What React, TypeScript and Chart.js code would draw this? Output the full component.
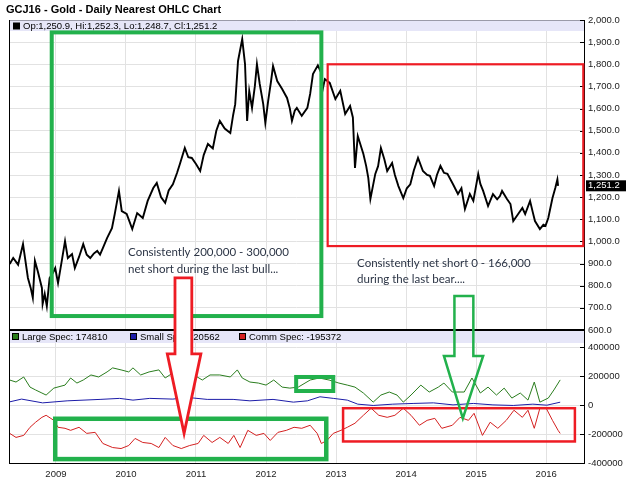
import React, { useEffect, useRef } from 'react';
import { Chart, registerables } from 'chart.js';
Chart.register(...registerables);

// ---------- DATA ----------
const titleText = 'GCJ16 - Gold - Daily Nearest OHLC Chart';
const ohlcLabel = 'Op:1,250.9, Hi:1,252.3, Lo:1,248.7, Cl:1,251.2';
const lastClose = 1251.2;

const yearTicks = [2009, 2010, 2011, 2012, 2013, 2014, 2015, 2016];
const priceTicks = [600, 700, 800, 900, 1000, 1100, 1200, 1300, 1400, 1500, 1600, 1700, 1800, 1900, 2000];
const cotTicks = [-400000, -200000, 0, 200000, 400000];

const priceYears = [
  2008.34, 2008.39, 2008.46, 2008.53, 2008.6, 2008.64, 2008.67, 2008.7, 2008.74, 2008.8, 2008.81, 2008.84, 2008.87,
  2008.91, 2008.96, 2008.99, 2009.03, 2009.09, 2009.13, 2009.17, 2009.23, 2009.27, 2009.33, 2009.39, 2009.44, 2009.49,
  2009.54, 2009.59, 2009.63, 2009.67, 2009.73, 2009.8, 2009.84, 2009.9, 2009.94, 2010.01, 2010.09, 2010.16, 2010.24,
  2010.31, 2010.39, 2010.44, 2010.5, 2010.56, 2010.61, 2010.67, 2010.73, 2010.77, 2010.84, 2010.89, 2010.94, 2011.0,
  2011.06, 2011.11, 2011.17, 2011.24, 2011.29, 2011.34, 2011.41, 2011.49, 2011.53, 2011.56, 2011.6, 2011.66, 2011.7,
  2011.73, 2011.76, 2011.8, 2011.84, 2011.87, 2011.91, 2011.96, 2011.99, 2012.03, 2012.07, 2012.1, 2012.16, 2012.23,
  2012.3, 2012.34, 2012.37, 2012.41, 2012.44, 2012.51, 2012.59, 2012.63, 2012.67, 2012.74, 2012.79, 2012.81, 2012.84,
  2012.91, 2012.99, 2013.06, 2013.13, 2013.2, 2013.24, 2013.27, 2013.31, 2013.39, 2013.43, 2013.46, 2013.49, 2013.56,
  2013.6, 2013.64, 2013.69, 2013.73, 2013.8, 2013.84, 2013.89, 2013.96, 2014.01, 2014.06, 2014.11, 2014.17, 2014.24,
  2014.3, 2014.34, 2014.4, 2014.44, 2014.49, 2014.54, 2014.59, 2014.67, 2014.74, 2014.79, 2014.84, 2014.91, 2014.96,
  2015.03, 2015.06, 2015.1, 2015.17, 2015.24, 2015.3, 2015.34, 2015.37, 2015.44, 2015.49, 2015.53, 2015.6, 2015.66,
  2015.7, 2015.77, 2015.81, 2015.84, 2015.91, 2015.96, 2015.99, 2016.03, 2016.09, 2016.13, 2016.16, 2016.17,
];
const priceValues = [
  898, 925, 895, 988, 835, 790, 745, 912, 866, 790, 717, 763, 708,
  835, 860, 880, 812, 925, 1002, 925, 943, 880, 930, 988, 940, 925,
  945, 957, 940, 970, 1015, 1060, 1124, 1228, 1137, 1124, 1056, 1128, 1106,
  1183, 1241, 1264, 1200, 1174, 1230, 1258, 1310, 1350, 1422, 1380, 1377, 1350,
  1318, 1390, 1440, 1420, 1500, 1544, 1510, 1490, 1570, 1620, 1815, 1914, 1801,
  1544, 1680, 1603, 1700, 1801, 1711, 1620, 1535, 1634, 1720, 1792, 1724, 1688,
  1648, 1600, 1544, 1590, 1603, 1567, 1603, 1666, 1756, 1795, 1760, 1688, 1733,
  1716, 1643, 1680, 1576, 1612, 1560, 1332, 1476, 1395, 1340, 1287, 1192, 1305,
  1340, 1422, 1370, 1318, 1354, 1300, 1250, 1196, 1240, 1258, 1320, 1377, 1318,
  1300, 1296, 1250, 1300, 1341, 1310, 1305, 1258, 1214, 1240, 1146, 1214, 1183,
  1305, 1260, 1228, 1160, 1214, 1190, 1205, 1228, 1192, 1169, 1092, 1124, 1151,
  1124, 1183, 1130, 1092, 1056, 1075, 1070, 1106, 1196, 1241, 1280, 1251,
];

const largeYears = [
  2008.34, 2008.43, 2008.54, 2008.63, 2008.71, 2008.8, 2008.86, 2008.97, 2009.13, 2009.21, 2009.3, 2009.39, 2009.5,
  2009.61, 2009.73, 2009.81, 2009.93, 2010.04, 2010.1, 2010.21, 2010.33, 2010.47, 2010.56, 2010.67, 2010.84, 2010.97,
  2011.09, 2011.2, 2011.34, 2011.49, 2011.59, 2011.66, 2011.77, 2011.89, 2012.0, 2012.11, 2012.23, 2012.34, 2012.46,
  2012.63, 2012.76, 2012.9, 2013.04, 2013.16, 2013.27, 2013.39, 2013.53, 2013.64, 2013.76, 2013.87, 2013.96, 2014.07,
  2014.21, 2014.33, 2014.46, 2014.54, 2014.66, 2014.83, 2014.94, 2015.06, 2015.17, 2015.29, 2015.4, 2015.51, 2015.63,
  2015.74, 2015.83, 2015.91, 2016.03, 2016.11, 2016.2,
];
const largeSpec = [
  174000, 160000, 195000, 125000, 105000, 84000, 70000, 118000, 139000, 188000, 153000, 174000, 209000,
  195000, 230000, 258000, 244000, 230000, 258000, 209000, 230000, 244000, 188000, 223000, 244000, 209000,
  174000, 209000, 209000, 195000, 244000, 188000, 160000, 153000, 139000, 174000, 125000, 118000, 125000,
  174000, 188000, 174000, 153000, 139000, 125000, 84000, 21000, 70000, 91000, 70000, 21000, 70000,
  139000, 91000, 125000, 153000, 91000, 91000, 188000, 84000, 125000, 70000, 118000, 49000, 84000,
  35000, 160000, 21000, 49000, 105000, 174810,
];

const smallYears = [
  2008.34, 2008.51, 2008.81, 2009.16, 2009.63, 2009.91, 2010.1, 2010.34, 2010.67, 2010.87, 2011.16, 2011.53, 2011.77,
  2012.1, 2012.39, 2012.59, 2012.77, 2012.96, 2013.16, 2013.31, 2013.53, 2013.81, 2014.1, 2014.39, 2014.67, 2014.96,
  2015.24, 2015.53, 2015.81, 2016.01, 2016.2,
];
const smallSpec = [
  23000, 42000, 16000, 30000, 40000, 47000, 35000, 47000, 42000, 54000, 40000, 40000, 30000,
  40000, 21000, 30000, 58000, 47000, 35000, 7000, -2000, 7000, 12000, 16000, 2000, 12000,
  2000, -2000, 7000, 0, 20562,
];

const commYears = [
  2008.34, 2008.43, 2008.54, 2008.63, 2008.71, 2008.8, 2008.86, 2008.97, 2009.03, 2009.13, 2009.21, 2009.33, 2009.44,
  2009.56, 2009.67, 2009.81, 2009.93, 2010.04, 2010.13, 2010.24, 2010.36, 2010.47, 2010.56, 2010.67, 2010.79, 2010.91,
  2011.03, 2011.11, 2011.23, 2011.34, 2011.46, 2011.54, 2011.63, 2011.74, 2011.86, 2011.97, 2012.06, 2012.17, 2012.29,
  2012.4, 2012.51, 2012.63, 2012.73, 2012.79, 2012.87, 2012.96, 2013.07, 2013.16, 2013.27, 2013.39, 2013.5, 2013.61,
  2013.73, 2013.84, 2013.96, 2014.07, 2014.19, 2014.3, 2014.41, 2014.51, 2014.66, 2014.77, 2014.89, 2014.97, 2015.09,
  2015.2, 2015.31, 2015.43, 2015.54, 2015.66, 2015.74, 2015.83, 2015.91, 2016.0, 2016.09, 2016.17, 2016.2,
];
const commSpec = [
  -195000, -223000, -209000, -153000, -118000, -84000, -70000, -105000, -153000, -160000, -174000, -153000, -195000,
  -188000, -265000, -293000, -300000, -279000, -230000, -258000, -265000, -293000, -223000, -279000, -300000, -279000,
  -265000, -209000, -258000, -223000, -265000, -209000, -293000, -174000, -209000, -195000, -244000, -188000, -174000,
  -153000, -160000, -139000, -195000, -265000, -244000, -195000, -174000, -153000, -125000, -70000, -21000, -70000,
  -84000, -70000, -21000, -70000, -139000, -105000, -91000, -160000, -139000, -84000, -105000, -56000, -209000,
  -118000, -160000, -105000, -35000, -84000, -35000, -160000, -21000, -21000, -105000, -174000, -195372,
];

// ---------- ANNOTATIONS (data coordinates) ----------
const GREEN = '#22b14c';
const RED = '#ee1c24';
const rects = [
  { axis: 'yPrice', x0: 2008.94, x1: 2012.79, y0: 1944, y1: 663, color: GREEN, lw: 4 },
  { axis: 'yPrice', x0: 2012.88, x1: 2016.53, y0: 1800, y1: 979, color: RED, lw: 2.2 },
  { axis: 'yCot', x0: 2012.43, x1: 2012.96, y0: 195000, y1: 98000, color: GREEN, lw: 4 },
  { axis: 'yCot', x0: 2008.99, x1: 2012.86, y0: -94000, y1: -373000, color: GREEN, lw: 4.5 },
  { axis: 'yCot', x0: 2013.1, x1: 2016.41, y0: -21000, y1: -251000, color: RED, lw: 2.5 },
];
const arrows = [
  { color: RED, lw: 2.8, fill: '#ffffff', top: 835, base: 355000, tip: -195000, sL: 2010.7, sR: 2010.94, hL: 2010.59, hR: 2011.07, tx: 2010.83 },
  { color: GREEN, lw: 2.5, fill: '', top: 754, base: 341000, tip: -91000, sL: 2014.69, sR: 2014.96, hL: 2014.54, hR: 2015.1, tx: 2014.81 },
];
const notes = [
  { x: 2010.03, y: 953, text: 'Consistently 200,000 - 300,000' },
  { x: 2010.03, y: 876, text: 'net short during the last bull...' },
  { x: 2013.3, y: 899, text: 'Consistently net short 0 - 166,000' },
  { x: 2013.3, y: 827, text: 'during the last bear....' },
];
const cotLegend = [
  { label: 'Large Spec: 174810', color: '#2a7d1e', x: 12 },
  { label: 'Small Spec: 20562', color: '#1c1ca8', x: 130 },
  { label: 'Comm Spec: -195372', color: '#d42020', x: 239 },
];

const FONT = 'Liberation Sans, Arial, sans-serif';
const fmtPrice = (v: number) => v.toLocaleString('en-US', { minimumFractionDigits: 1, maximumFractionDigits: 1 });

const overlay = {
  id: 'overlay',
  beforeDatasetsDraw(chart: any) {
    const { ctx, chartArea } = chart;
    const yP = chart.scales.yPrice;
    const yC = chart.scales.yCot;
    ctx.save();
    ctx.fillStyle = '#e6e6f8';
    ctx.fillRect(chartArea.left, yP.top, chartArea.right - chartArea.left, 11);
    ctx.fillRect(chartArea.left, yC.top + 1, chartArea.right - chartArea.left, 12);
    ctx.strokeStyle = '#9a9aa8';
    ctx.lineWidth = 1;
    ctx.beginPath();
    ctx.moveTo(chartArea.left, yP.top + 0.5);
    ctx.lineTo(chartArea.right, yP.top + 0.5);
    ctx.stroke();
    ctx.font = `9.5px ${FONT}`;
    ctx.textBaseline = 'middle';
    ctx.fillStyle = '#000';
    ctx.fillRect(chartArea.left + 4, yP.top + 2.5, 7, 7);
    ctx.fillText(ohlcLabel, chartArea.left + 14, yP.top + 6);
    for (const item of cotLegend) {
      ctx.fillStyle = '#000';
      ctx.fillRect(item.x, yC.top + 3, 7, 7);
      ctx.fillStyle = item.color;
      ctx.fillRect(item.x + 1, yC.top + 4, 5, 5);
      ctx.fillStyle = '#000';
      ctx.fillText(item.label, item.x + 10, yC.top + 7);
    }
    ctx.restore();
  },
  afterDraw(chart: any) {
    const { ctx, chartArea } = chart;
    const xs = chart.scales.x;
    const yP = chart.scales.yPrice;
    const yC = chart.scales.yCot;
    const Y = (axis: string, v: number) => chart.scales[axis].getPixelForValue(v);
    const X = (v: number) => xs.getPixelForValue(v);
    ctx.save();
    ctx.strokeStyle = '#000';
    ctx.lineWidth = 1;
    ctx.beginPath();
    ctx.moveTo(chartArea.left + 0.5, chartArea.top);
    ctx.lineTo(chartArea.left + 0.5, chartArea.bottom);
    ctx.stroke();
    ctx.lineWidth = 2;
    ctx.beginPath();
    ctx.moveTo(chartArea.left, yC.top);
    ctx.lineTo(chartArea.right, yC.top);
    ctx.stroke();
    ctx.lineWidth = 1;
    for (const sc of [yP, yC]) {
      for (const t of sc.ticks) {
        const py = Math.round(sc.getPixelForValue(t.value)) + 0.5;
        ctx.beginPath();
        ctx.moveTo(chartArea.right - 4, py);
        ctx.lineTo(chartArea.right, py);
        ctx.stroke();
      }
    }
    for (const r of rects) {
      ctx.strokeStyle = r.color;
      ctx.lineWidth = r.lw;
      const x0 = X(r.x0), x1 = X(r.x1), y0 = Y(r.axis, r.y0), y1 = Y(r.axis, r.y1);
      ctx.strokeRect(x0, y0, x1 - x0, y1 - y0);
    }
    for (const a of arrows) {
      const top = Y('yPrice', a.top), base = Y('yCot', a.base), tip = Y('yCot', a.tip);
      ctx.beginPath();
      ctx.moveTo(X(a.sL), top);
      ctx.lineTo(X(a.sR), top);
      ctx.lineTo(X(a.sR), base);
      ctx.lineTo(X(a.hR), base);
      ctx.lineTo(X(a.tx), tip);
      ctx.lineTo(X(a.hL), base);
      ctx.lineTo(X(a.sL), base);
      ctx.closePath();
      if (a.fill) {
        ctx.fillStyle = a.fill;
        ctx.fill();
      }
      ctx.strokeStyle = a.color;
      ctx.lineWidth = a.lw;
      ctx.lineJoin = 'miter';
      ctx.stroke();
    }
    ctx.font = `11.5px Lato, "Open Sans", sans-serif`;
    ctx.fillStyle = '#2b3445';
    ctx.textBaseline = 'middle';
    ctx.textAlign = 'left';
    for (const n of notes) ctx.fillText(n.text, X(n.x), Y('yPrice', n.y));
    const ly = yP.getPixelForValue(lastClose);
    ctx.fillStyle = '#000';
    ctx.fillRect(chartArea.right + 2, ly - 5.5, 40, 11);
    ctx.fillStyle = '#fff';
    ctx.font = `9.5px ${FONT}`;
    ctx.fillText(fmtPrice(lastClose), chartArea.right + 4, ly);
    ctx.fillStyle = '#000';
    ctx.font = `bold 11px ${FONT}`;
    ctx.textBaseline = 'middle';
    ctx.fillText(titleText, 6, 10);
    ctx.restore();
  },
};

export default function App() {
  const ref = useRef<HTMLCanvasElement>(null);
  useEffect(() => {
    document.body.style.margin = '0';
    const canvas = ref.current!;
    const tickFont = { family: FONT, size: 9.5 };
    const chart = new Chart(canvas, {
      type: 'line',
      data: {
        datasets: [
          {
            label: 'Gold',
            data: priceYears.map((x, i) => ({ x, y: priceValues[i] })),
            yAxisID: 'yPrice',
            borderColor: '#000',
            borderWidth: 1.9,
            pointRadius: 0,
          },
          {
            label: 'Large Spec',
            data: largeYears.map((x, i) => ({ x, y: largeSpec[i] })),
            yAxisID: 'yCot',
            borderColor: '#2a7d1e',
            borderWidth: 1,
            pointRadius: 0,
          },
          {
            label: 'Small Spec',
            data: smallYears.map((x, i) => ({ x, y: smallSpec[i] })),
            yAxisID: 'yCot',
            borderColor: '#1c1ca8',
            borderWidth: 1,
            pointRadius: 0,
          },
          {
            label: 'Comm Spec',
            data: commYears.map((x, i) => ({ x, y: commSpec[i] })),
            yAxisID: 'yCot',
            borderColor: '#d42020',
            borderWidth: 1,
            pointRadius: 0,
          },
        ],
      },
      options: {
        responsive: false,
        animation: false,
        events: [],
        layout: { padding: { left: 9, top: 20, right: 0, bottom: 0 } },
        plugins: { legend: { display: false }, tooltip: { enabled: false }, title: { display: false } },
        scales: {
          x: {
            type: 'linear',
            position: 'bottom',
            min: 2008.33,
            max: 2016.54,
            afterBuildTicks: (s: any) => { s.ticks = yearTicks.map((v) => ({ value: v })); },
            afterFit: (s: any) => { s.height = 23; },
            ticks: { callback: (v: any) => String(v), font: tickFont, color: '#222', padding: 6, maxRotation: 0, autoSkip: false },
            grid: { color: '#e2e2e2', drawTicks: false },
            border: { color: '#000', width: 1 },
          },
          yPrice: {
            type: 'linear',
            position: 'right',
            stack: 'panels',
            stackWeight: 310,
            min: 600,
            max: 2000,
            afterBuildTicks: (s: any) => { s.ticks = priceTicks.map((v) => ({ value: v })); },
            afterFit: (s: any) => { s.width = 46; },
            ticks: { callback: (v: any) => fmtPrice(Number(v)), font: tickFont, color: '#222', padding: 4, autoSkip: false },
            grid: { color: '#e2e2e2', drawTicks: false },
            border: { color: '#000', width: 1 },
          },
          yCot: {
            type: 'linear',
            position: 'right',
            stack: 'panels',
            stackWeight: 133,
            min: -400000,
            max: 520000,
            afterBuildTicks: (s: any) => { s.ticks = cotTicks.map((v) => ({ value: v })); },
            afterFit: (s: any) => { s.width = 46; },
            ticks: { callback: (v: any) => String(v), font: tickFont, color: '#222', padding: 4, autoSkip: false },
            grid: { color: '#e2e2e2', drawTicks: false },
            border: { color: '#000', width: 1 },
          },
        },
      } as any,
      plugins: [overlay],
    });
    return () => chart.destroy();
  }, []);
  return (
    <div style={{ width: 630, height: 486 }}>
      <canvas ref={ref} width={630} height={486} style={{ display: 'block' }} />
    </div>
  );
}
